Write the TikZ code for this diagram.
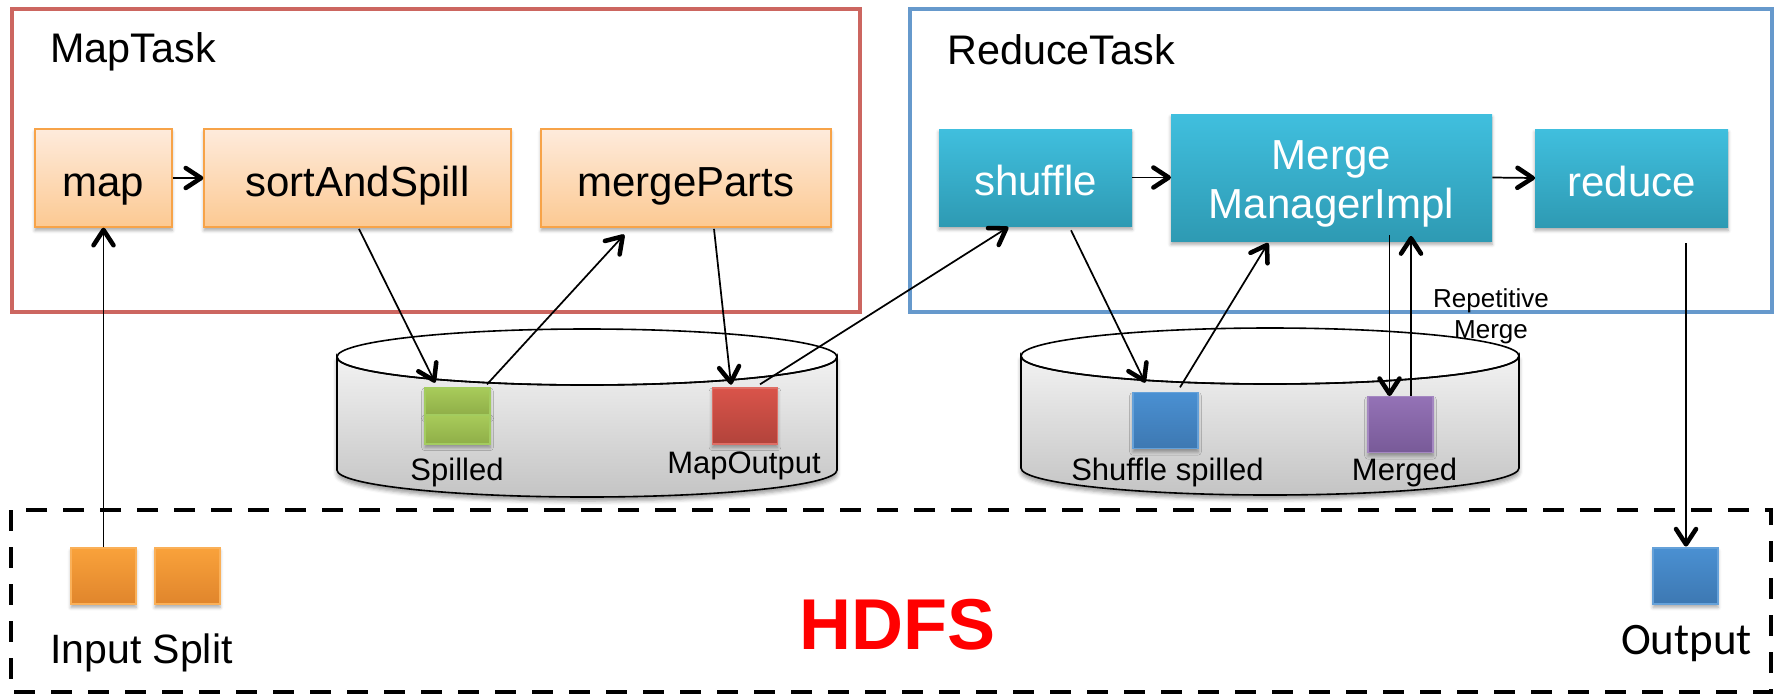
\documentclass[tikz,border=0pt]{standalone}
\usepackage{fontspec}
\setmainfont{Liberation Sans}
\newfontfamily\calibrifont{Carlito}
\usetikzlibrary{calc,shadows.blur,decorations.markings}

\definecolor{orTop}{HTML}{FEEBDC}
\definecolor{orBot}{HTML}{FCC992}
\definecolor{orEdge}{HTML}{F7A348}
\definecolor{tealTop}{HTML}{40BFDE}
\definecolor{tealBot}{HTML}{2E9AB3}
\definecolor{greenTop}{HTML}{A8CB5A}
\definecolor{greenBot}{HTML}{8FAE48}
\definecolor{greenEdge}{HTML}{A3CC5F}
\definecolor{redTop}{HTML}{D9544A}
\definecolor{redBot}{HTML}{B2433B}
\definecolor{blueTop}{HTML}{4A90D2}
\definecolor{blueBot}{HTML}{3D78B2}
\definecolor{purpTop}{HTML}{9472B6}
\definecolor{purpBot}{HTML}{785A98}
\definecolor{inTop}{HTML}{F9A23B}
\definecolor{inBot}{HTML}{E0852C}
\definecolor{cylTop}{HTML}{F2F2F2}
\definecolor{cylBot}{HTML}{C4C4C4}
\definecolor{redFrame}{HTML}{CC6660}
\definecolor{reduceFrame}{HTML}{6699CC}

\tikzset{
  softshadow/.style={blur shadow={shadow xshift=0pt,shadow yshift=-2.5pt,
      shadow blur radius=2.5pt,shadow opacity=35}},
  boxfont/.style={font=\fontsize{31.5}{36.75}\selectfont},
  orangebox/.style={draw=orEdge,line width=1.4pt,top color=orTop,bottom color=orBot,
      softshadow,inner sep=0pt,text height=27pt,text depth=0pt,boxfont},
  tealbox/.style={draw=none,top color=tealTop,bottom color=tealBot,
      softshadow,inner sep=0pt,text height=27pt,text depth=0pt,boxfont,text=white},
  block/.style={inner sep=0pt,minimum width=48.75pt,minimum height=42pt,
      line width=1pt,softshadow},
  lbl/.style={inner sep=0pt,font=\fontsize{23.25}{27}\selectfont},
  title/.style={inner sep=0pt,anchor=base west,font=\fontsize{31}{36}\selectfont},
  % thin shaft with a bold open barb at its end
  arr/.style={line width=1.3pt,
    postaction={decorate,decoration={markings,mark=at position 1 with {
      \draw[line width=3.4pt,line cap=round,line join=round]
        (-13pt,7.5pt) -- (-1.5pt,0pt) -- (-13pt,-7.5pt);}}}},
  cyl/.style={draw=black,line width=1.2pt,top color=cylTop,bottom color=cylBot},
}

\begin{document}
\begin{tikzpicture}[x=0.75pt,y=-0.75pt]
\useasboundingbox (0,0) rectangle (1777,697);

% task frames and the HDFS area
\draw[redFrame,line width=3pt] (12,9) rectangle (860,312);
\draw[reduceFrame,line width=3pt] (910,9) rectangle (1772,312);
\draw[black,line width=3pt,dash pattern=on 15.75pt off 12pt] (11,510) rectangle (1771,692);

\node[title] (maptask) at (50,62) {MapTask};
\node[title] (reducetask) at (947,64) {ReduceTask};

% local disks
\path[cyl,blur shadow={shadow xshift=0pt,shadow yshift=-3pt,shadow blur radius=3pt,shadow opacity=40}]
  (337,357) -- (337,470) arc[start angle=180,end angle=0,x radius=250,y radius=27]
  -- (837,357) arc[start angle=0,end angle=180,x radius=250,y radius=28] -- cycle;
\draw[line width=1.2pt] (587,357) ellipse[x radius=250,y radius=28];

\path[cyl,blur shadow={shadow xshift=0pt,shadow yshift=-3pt,shadow blur radius=3pt,shadow opacity=40}]
  (1021,356) -- (1021,468) arc[start angle=180,end angle=0,x radius=249,y radius=27]
  -- (1519,356) arc[start angle=0,end angle=180,x radius=249,y radius=28] -- cycle;
\draw[line width=1.2pt] (1270,356) ellipse[x radius=249,y radius=28];

% map side
\node[orangebox,minimum width=102.75pt,minimum height=73.5pt] (map) at (103.5,178) {map};
\node[orangebox,minimum width=230.25pt,minimum height=73.5pt] (sort) at (357.5,178) {sortAndSpill};
\node[orangebox,minimum width=217.5pt,minimum height=73.5pt] (mparts) at (686,178) {mergeParts};

% reduce side
\node[tealbox,minimum width=144.75pt,minimum height=72.75pt] (shuffle) at (1035.5,177.5) {shuffle};
\node[tealbox,minimum width=240.75pt,minimum height=95.25pt] (mmi) at (1331.5,177.5) {};
\node[inner sep=0pt,boxfont,text=white,align=center] (mmitext) at (1331.5,184) {Merge\\ManagerImpl};
\node[tealbox,minimum width=144.75pt,minimum height=73.5pt] (reduce) at (1631.5,178) {reduce};

% data blocks
\node[block,minimum height=20.25pt,draw=greenEdge,top color=greenTop,bottom color=greenBot] (spill) at (457.5,401.5) {};
\node[block,minimum height=21.75pt,draw=greenEdge,top color=greenTop,bottom color=greenBot] (spillb) at (457.5,429.5) {};
\node[block,draw=redTop!85!white,top color=redTop,bottom color=redBot] (mapout) at (745,416) {};
\node[block,draw=blueTop!85!white,top color=blueTop,bottom color=blueBot] (shsp) at (1165.5,420.5) {};
\node[block,draw=purpTop!85!white,top color=purpTop,bottom color=purpBot] (merged) at (1400.5,424.5) {};
\node[block,draw=inTop!85!white,top color=inTop,bottom color=inBot] (in1) at (103.5,576) {};
\node[block,draw=inTop!85!white,top color=inTop,bottom color=inBot] (in2) at (187.5,576) {};
\node[block,draw=blueTop!85!white,top color=blueTop,bottom color=blueBot] (out) at (1685.5,576) {};

% labels
\node[lbl,anchor=base] (spilledlbl) at (457,480) {Spilled};
\node[lbl,anchor=base] (mapoutlbl) at (744,473) {MapOutput};
\node[lbl,anchor=base] (shsplbl) at (1167.5,480) {Shuffle spilled};
\node[lbl,anchor=base] (mergedlbl) at (1404.5,480) {Merged};
\node[inner sep=0pt,align=center,font=\fontsize{19.5}{23.25}\selectfont] (repmerge) at (1491,316) {Repetitive\\Merge};
\node[inner sep=0pt,anchor=base west,font=\fontsize{30.75}{36}\selectfont] (inputlbl) at (50,663) {Input Split};
\node[inner sep=0pt,anchor=base,font=\calibrifont\fontsize{33.75}{40}\selectfont] (outlbl) at (1686.5,654) {Output};
\node[inner sep=0pt,anchor=base west,text=red,font=\bfseries\fontsize{54}{60}\selectfont] (hdfs) at (799,649) {HDFS};

% data flow
\draw[arr] (map.east) -- (sort.west);
\draw[arr] (in1.north) -- (map.south);
\draw[arr] ($(sort.south)+(1.5,1)$) -- ($(spill.north)+(-22.5,-5)$);
\draw[arr] ($(spill.north)+(29.5,-3)$) -- ($(mparts.south)+(-62,7)$);
\draw[arr] ($(mparts.south)+(28,1)$) -- ($(mapout.north)+(-14,-3)$);
\draw[arr] ($(mapout.north)+(15,-3)$) -- ($(shuffle.south)+(-27.5,1)$);
\draw[arr] (shuffle.east) -- (mmi.west);
\draw[arr] ($(shuffle.south)+(35.5,4)$) -- ($(shsp.north)+(-20.5,-9.5)$);
\draw[arr] ($(shsp.north)+(14.5,-4.5)$) -- ($(mmi.south)+(-63.5,2)$);
\draw[arr] ($(mmi.south)+(58,-6)$) -- ($(merged.north)+(-11,0)$);
\draw[arr] ($(merged.north)+(10.5,0)$) -- ($(mmi.south)+(79.5,-5)$);
\draw[arr] (mmi.east) -- (reduce.west);
\draw[arr] ($(reduce.south)+(54.5,16)$) -- ($(out.north)+(0.5,-1)$);
\end{tikzpicture}
\end{document}
